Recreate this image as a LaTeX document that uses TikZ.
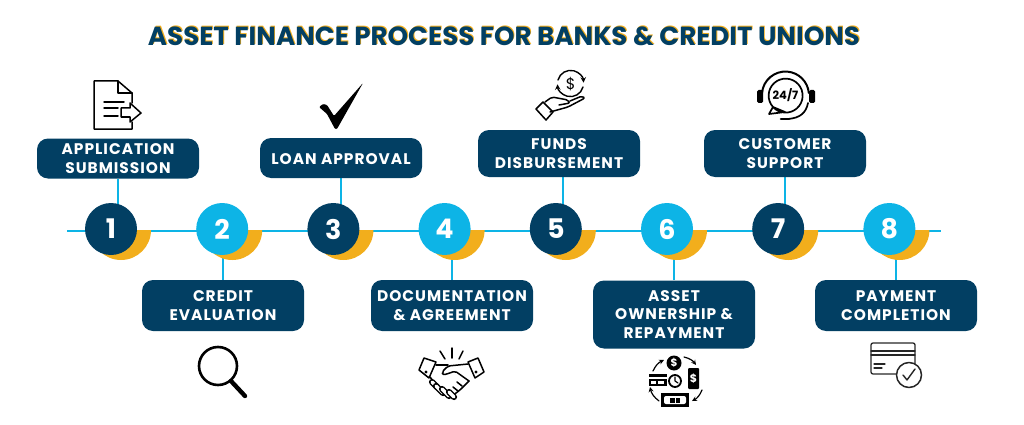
\documentclass[tikz,border=0pt]{standalone}
\usepackage{fontspec}
\setmainfont{Poppins}
\newfontfamily\stepfont{Poppins}[LetterSpace=6.5]
\usetikzlibrary{arrows,positioning,calc,backgrounds}
\definecolor{navy}{HTML}{023F63}
\definecolor{skyline}{HTML}{0DB4E6}
\definecolor{amber}{HTML}{F2AE1C}

\begin{document}
\begin{tikzpicture}[x=1pt,y=1pt,semithick]
	  \tikzstyle{stepbox}=[fill=navy,rounded corners=11pt,text=white,align=center,minimum width=162pt,inner sep=0pt,font=\stepfont\bfseries\fontsize{15.4}{18.7}\selectfont]
	  \tikzstyle{numdark}=[circle,fill=navy,text=white,minimum size=52pt,inner sep=0pt,font=\bfseries\fontsize{27}{27}\selectfont]
	  \tikzstyle{numlight}=[numdark,fill=skyline]
	  \tikzstyle{link}=[draw=skyline,line width=2pt]
	  \tikzstyle{moon}=[fill=amber]
	  \tikzstyle{icon}=[draw=black,line width=1.5pt,line join=round,line cap=round]
	  \tikzstyle{iconfill}=[fill=black,draw=none]

	  \useasboundingbox (0,0) rectangle (1024,-425);

	  \node[text=amber,font=\bfseries\fontsize{26.1}{30}\selectfont] (titleshadow) at (504.8,-35.2) {ASSET FINANCE PROCESS FOR BANKS \& CREDIT UNIONS};
	  \node[text=navy,font=\bfseries\fontsize{26.1}{30}\selectfont] (title) at (504,-36) {ASSET FINANCE PROCESS FOR BANKS \& CREDIT UNIONS};

	  \node[numdark] (n1) at (111,-229) {1};
	  \node[numlight] (n2) [right=58.6pt of n1] {2};
	  \node[numdark] (n3) [right=58.6pt of n2] {3};
	  \node[numlight] (n4) [right=58.6pt of n3] {4};
	  \node[numdark] (n5) [right=58.6pt of n4] {5};
	  \node[numlight] (n6) [right=58.6pt of n5] {6};
	  \node[numdark] (n7) [right=58.6pt of n6] {7};
	  \node[numlight] (n8) [right=58.6pt of n7] {8};

	  \node[stepbox,minimum height=40pt] (b1) at (118,-158.5) {APPLICATION\\SUBMISSION};
	  \node[stepbox,minimum height=51pt] (b2) at (223,-305.5) {CREDIT\\EVALUATION};
	  \node[stepbox,minimum height=40pt,text height=13pt] (b3) at (341,-158) {LOAN APPROVAL};
	  \node[stepbox,minimum height=51pt] (b4) at (452,-305.5) {DOCUMENTATION\\\& AGREEMENT};
	  \node[stepbox,minimum height=47pt] (b5) at (559,-153.5) {FUNDS\\DISBURSEMENT};
	  \node[stepbox,minimum height=68pt] (b6) at (674,-314.5) {ASSET\\OWNERSHIP \&\\REPAYMENT};
	  \node[stepbox,minimum height=47pt] (b7) at (785,-153.5) {CUSTOMER\\SUPPORT};
	  \node[stepbox,minimum height=51pt] (b8) at (896,-305.5) {PAYMENT\\COMPLETION};

	  \coordinate (linestart) at (67,-231);
	  \coordinate (lineend) at (941,-231);
	  \coordinate (t5) at (563,-177);

	  \begin{scope}[on background layer]
	    \draw[link] (linestart) -- (lineend);
	    \draw[link] (b1.south) -- (b1.south |- n1.center);
	    \draw[link] (b2.north) -- (b2.north |- n2.center);
	    \draw[link] (b3.south) -- (b3.south |- n3.center);
	    \draw[link] (b4.north) -- (b4.north |- n4.center);
	    \draw[link] (t5) -- (t5 |- n5.center);
	    \draw[link] (b6.north) -- (b6.north |- n6.center);
	    \draw[link] (b7.south) -- (b7.south |- n7.center);
	    \draw[link] (b8.north) -- (b8.north |- n8.center);
	    \fill[moon] ($(n1.center)+(-20,-1)$) arc (180:360:30) -- cycle;
	    \fill[moon] ($(n2.center)+(-20,-1)$) arc (180:360:30) -- cycle;
	    \fill[moon] ($(n3.center)+(-20,-1)$) arc (180:360:30) -- cycle;
	    \fill[moon] ($(n4.center)+(-20,-1)$) arc (180:360:30) -- cycle;
	    \fill[moon] ($(n5.center)+(-20,-1)$) arc (180:360:30) -- cycle;
	    \fill[moon] ($(n6.center)+(-20,-1)$) arc (180:360:30) -- cycle;
	    \fill[moon] ($(n7.center)+(-20,-1)$) arc (180:360:30) -- cycle;
	    \fill[moon] ($(n8.center)+(-20,-1)$) arc (180:360:30) -- cycle;
	  \end{scope}

	  \draw[icon] (132,-103) -- (132,-93) -- (118,-81) -- (94,-81) -- (94,-129) -- (132,-129) -- (132,-122);
	  \draw[icon] (118,-81) -- (118,-93) -- (132,-93);
	  \draw[icon] (104,-102) -- (124,-102);
	  \draw[icon] (104,-108) -- (118,-108);
	  \draw[icon] (104,-116) -- (118,-116);
	  \draw[icon] (121,-108) -- (130,-108) -- (130,-103) -- (141,-113) -- (130,-122) -- (130,-117) -- (121,-117) -- cycle;

	  \fill[iconfill,rounded corners=1pt] (319,-107) -- (323,-104) -- (327,-105) -- (334,-116) -- (363,-83) -- (337,-129) -- (335,-129) -- (327,-114) -- cycle;

	  \draw[icon,line width=2.6pt] (218,-366) circle (19);
	  \draw[icon,line width=4.4pt] (231,-381) -- (245,-396);

	  \draw[icon,line width=1.4pt,-stealth] (558,-80) arc (165:3:13);
	  \draw[icon,line width=1.4pt,-stealth] (583,-87) arc (-15:-177:13);
	  \node[font=\fontsize{15.5}{15.5}\selectfont,inner sep=0pt] (dollar) at (570.7,-84) {\$};
	  \draw[icon,line width=1.5pt] (536,-109) -- (543,-102) -- (553,-112) -- (546,-120) -- cycle;
	  \draw[icon,line width=1.5pt,rounded corners=2pt] (545,-102) -- (552,-97) -- (568,-100) -- (570,-103) -- (559,-105);
	  \draw[icon,line width=1.5pt,rounded corners=2pt] (550,-112) -- (568,-107) -- (585,-98) -- (582,-96) -- (570,-101);

	  \draw[icon,line width=1.7pt] (773,-107) arc (222:-138:17) -- (785,-112) -- (769,-114) -- cycle;
	  \node[font=\bfseries\fontsize{11.5}{12}\selectfont,inner sep=0pt] (hours) at (785.5,-95) {24/7};
	  \draw[icon,line width=2pt] (762,-93) arc (175:5:23.5);
	  \fill[iconfill,rounded corners=1.5pt] (757,-90) rectangle (763,-103);
	  \fill[iconfill,rounded corners=1.5pt] (809,-90) rectangle (815,-103);
	  \draw[icon,line width=1.7pt] (808,-103) .. controls (806,-113) and (800,-118) .. (788,-119);
	  \draw[icon,line width=2.6pt] (781,-119) -- (789,-119);

	  \draw[icon,line width=1.5pt] (440,-351) -- (445,-359);
	  \draw[icon,line width=1.5pt] (452,-348) -- (452,-358);
	  \draw[icon,line width=1.5pt] (463,-351) -- (459,-359);
	  \draw[icon,line width=1.5pt] (419,-370) -- (424,-358) -- (436,-362) -- (429,-378) -- cycle;
	  \draw[icon,line width=1.5pt] (468,-362) -- (478,-358) -- (484,-372) -- (475,-378) -- cycle;
	  \fill[iconfill] (426,-372) circle (1.6);
	  \fill[iconfill] (476,-372) circle (1.6);
	  \draw[icon,line width=1.5pt,rounded corners=2pt] (436,-365) -- (448,-365);
	  \draw[icon,line width=1.5pt,rounded corners=2pt] (468,-364) -- (458,-365) -- (448,-366) -- (442,-372) -- (443,-375) -- (450,-373) -- (455,-371) -- (469,-381);
	  \draw[icon,line width=1.5pt] (430,-377) -- (434,-382);
	  \draw[icon,line width=1.5pt,rounded corners=2pt] (469,-381) -- (460,-390) -- (452,-396);
	  \draw[icon,line width=1.5pt] (457,-382) -- (462,-386);
	  \draw[icon,line width=1.5pt] (453,-387) -- (458,-391);
	  \draw[icon,line width=1.5pt,double,double distance=3.2pt] (432,-382) -- (437,-387);
	  \draw[icon,line width=1.5pt,double,double distance=3.2pt] (436,-386) -- (443,-393);
	  \draw[icon,line width=1.5pt,double,double distance=3.2pt] (442,-389) -- (449,-396);
	  \draw[icon,line width=1.5pt,double,double distance=3.2pt] (449,-392) -- (454,-397);

	  \fill[iconfill] (674,-363) circle (7.5);
	  \node[text=white,font=\bfseries\fontsize{10.5}{10.5}\selectfont,inner sep=0pt] (coin) at (674,-363) {\$};
	  \draw[icon,line width=1.8pt] (675,-381) circle (6);
	  \draw[icon,line width=1.2pt] (675,-377) -- (675,-381) -- (678,-383);
	  \fill[iconfill] (649,-374) rectangle (667,-386);
	  \fill[white] (649,-377) rectangle (667,-378.5);
	  \fill[white] (651,-381) rectangle (656,-384);
	  \fill[white] (658,-381) rectangle (664,-384);
	  \fill[iconfill,rounded corners=1pt] (688,-368) rectangle (699,-389);
	  \node[text=white,font=\bfseries\fontsize{11}{11}\selectfont,inner sep=0pt] (phone) at (693.5,-379) {\$};
	  \fill[iconfill] (661,-393) rectangle (689,-407);
	  \fill[white,rounded corners=2pt] (664,-396) rectangle (686,-404);
	  \fill[iconfill] (670,-397.5) rectangle (680,-402.5);
	  \fill[white] (674.5,-397.5) rectangle (675.5,-402.5);
	  \draw[icon,line width=1.2pt,-stealth] (653,-371) to[bend left=20] (664,-360);
	  \draw[icon,line width=1.2pt,-stealth] (684,-357) to[bend left=20] (696,-365);
	  \draw[icon,line width=1.2pt,-stealth] (702,-390) to[bend left=20] (692,-401);
	  \draw[icon,line width=1.2pt,-stealth] (659,-401) to[bend left=20] (650,-387);

	  \draw[icon,line width=1.3pt,rounded corners=2pt,draw=black!85] (871,-343) rectangle (915,-374);
	  \draw[icon,line width=1.1pt,draw=black!85] (871,-351) -- (915,-351);
	  \draw[icon,line width=1.1pt,draw=black!85] (871,-355) -- (915,-355);
	  \draw[icon,line width=1.1pt,draw=black!85] (874,-364) -- (885,-364);
	  \draw[icon,line width=1.1pt,draw=black!85] (874,-368) -- (882,-368);
	  \draw[icon,line width=1.5pt,fill=white,draw=black!85] (909,-375) circle (12.5);
	  \draw[icon,line width=1.4pt,draw=black!85] (903,-375) -- (907,-380) -- (915,-369);
	\end{tikzpicture}
\end{document}
